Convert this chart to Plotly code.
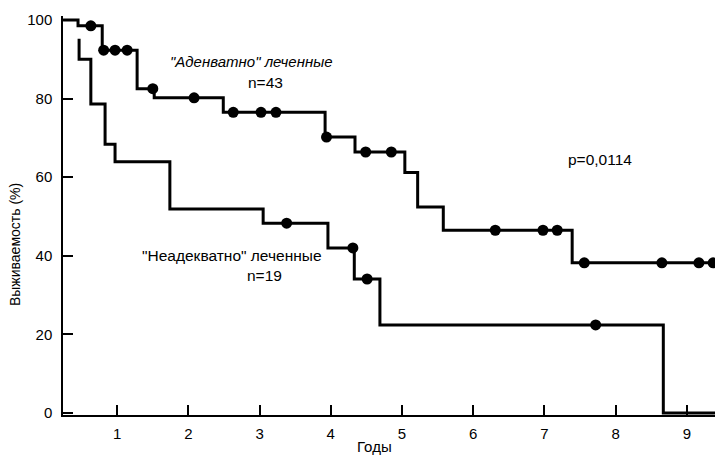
import plotly.graph_objects as go
import bisect

# Adequately treated (n=43): step times (years) and survival (%)
adeq_times = [0.24, 0.45, 0.79, 1.28, 1.52, 2.49, 3.92, 4.34, 5.04, 5.22, 5.58, 7.39, 9.40]
adeq_surv = [100, 98.5, 92.3, 82.5, 80.2, 76.5, 70.2, 66.4, 61.2, 52.4, 46.5, 38.2, 38.2]
adeq_censored = [0.63, 0.81, 0.97, 1.14, 1.50, 2.08, 2.63, 3.02, 3.23, 3.94, 4.49, 4.85,
                 6.31, 6.98, 7.18, 7.56, 8.65, 9.17, 9.37]

# Inadequately treated (n=19)
inad_times = [0.465, 0.465, 0.63, 0.83, 0.97, 1.74, 3.05, 3.96, 4.33, 4.69, 8.67, 9.40]
inad_surv = [95.2, 90.0, 78.6, 68.4, 63.9, 51.9, 48.3, 42.0, 34.1, 22.4, 0, 0]
inad_censored = [3.38, 4.31, 4.51, 7.72]

x_ticks = [1, 2, 3, 4, 5, 6, 7, 8, 9]
y_ticks = [0, 20, 40, 60, 80, 100]


def step_value(times, surv, t):
    i = bisect.bisect_right(times, t) - 1
    return surv[max(i, 0)]


fig = go.Figure()
for times, surv, cens in [(adeq_times, adeq_surv, adeq_censored),
                          (inad_times, inad_surv, inad_censored)]:
    fig.add_trace(go.Scatter(x=times, y=surv, mode="lines", line_shape="hv",
                             line=dict(color="black", width=3), showlegend=False,
                             hoverinfo="skip"))
    fig.add_trace(go.Scatter(x=cens, y=[step_value(times, surv, t) for t in cens],
                             mode="markers", marker=dict(color="black", size=11),
                             showlegend=False))

fam = "Liberation Sans, Arial, sans-serif"
font = dict(family=fam, color="black", size=15)

annots = [
    dict(x=2.89, y=89.3, text='<i>"Аденватно" леченные</i>', size=15),
    dict(x=3.08, y=84.2, text="n=43", size=15.5),
    dict(x=2.61, y=40.2, text='"Неадекватно" леченные', size=15.5),
    dict(x=3.07, y=35.1, text="n=19", size=15.5),
    dict(x=7.78, y=64.4, text="p=0,0114", size=15.5),
]
for a in annots:
    fig.add_annotation(x=a["x"], y=a["y"], text=a["text"], showarrow=False,
                       xref="x", yref="y", xanchor="center", yanchor="middle",
                       font=dict(family=fam, color="black", size=a["size"]))

# axis titles
fig.add_annotation(x=0.4785, y=-0.08, xref="paper", yref="paper", text="Годы",
                   showarrow=False, xanchor="center", yanchor="middle",
                   font=dict(family=fam, color="black", size=15))
fig.add_annotation(x=-0.0736, y=0.426, xref="paper", yref="paper", text="Выживаемость (%)",
                   textangle=-90, showarrow=False, xanchor="center", yanchor="middle",
                   font=dict(family=fam, color="black", size=14))

fig.update_layout(
    width=715, height=456,
    margin=dict(l=63, r=0, t=16, b=41),
    paper_bgcolor="white", plot_bgcolor="white",
    font=font,
    xaxis=dict(range=[0.239, 9.396], tickvals=x_ticks, ticktext=[str(v) for v in x_ticks],
               showline=True, linecolor="black", linewidth=1.5, ticks="inside",
               ticklen=10, tickwidth=1.5, tickcolor="black", showgrid=False,
               zeroline=False, ticklabelstandoff=4),
    yaxis=dict(range=[-0.5, 101], tickvals=y_ticks, ticktext=[str(v) for v in y_ticks],
               showline=True, linecolor="black", linewidth=1.5, ticks="inside",
               ticklen=10, tickwidth=1.5, tickcolor="black", showgrid=False,
               zeroline=False, ticklabelstandoff=6),
)

fig.write_html("out.html")
